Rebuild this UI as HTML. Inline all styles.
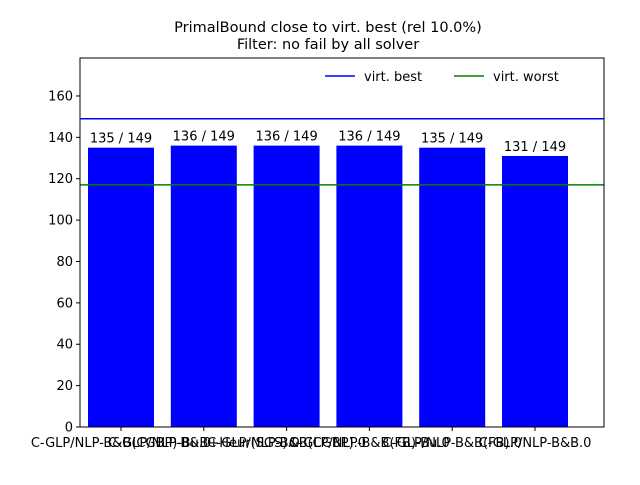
<!DOCTYPE html>
<html><head><meta charset="utf-8"><style>body{margin:0;background:#fff}svg{font-family:"DejaVu Sans","Liberation Sans",sans-serif}</style></head>
<body>
<svg id="c" width="640" height="480"></svg>
<script>
const categories=["C-GLP/NLP-B&B(CGBP)-Bu.0","C-GLP/NLP-B&B+Heur(SGS).0","C-GLP/NLP-B&B(CGBP).0","C-GLP/NLP-B&B(FB)-Bu.0","C-GLP/NLP-B&B(FB).0","C-GLP/NLP-B&B.0"];
const values=[135,136,136,136,135,131];
const totals=[149,149,149,149,149,149];
const virtBest=149, virtWorst=117;
const yTicks=[0,20,40,60,80,100,120,140,160];
const NS="http://www.w3.org/2000/svg";
const svg=document.getElementById('c');
const L=80,R=604,T=58,B=427,yMax=178.35;
const y=v=>B-(v/yMax)*(B-T);
const x=i=>121+82.8*i;
function mk(t,a,txt){const e=document.createElementNS(NS,t);for(const k in a)e.setAttribute(k,a[k]);if(txt!==undefined)e.textContent=txt;svg.appendChild(e);return e;}
let e;
e=mk('text',{x:328,y:32,'text-anchor':'middle','font-size':14.5},'PrimalBound close to virt. best (rel 10.0%)');


e=mk('text',{x:328,y:49,'text-anchor':'middle','font-size':14.5},'Filter: no fail by all solver');


values.forEach((v,i)=>{
 const b=mk('rect',{x:x(i)-33,y:y(v),width:66,height:B-y(v),fill:'#0000ff'});
 
 
 const t=mk('text',{x:x(i),y:y(v)-5,'text-anchor':'middle','font-size':13},v+' / '+totals[i]);
 
 
 const tk=mk('line',{x1:x(i),x2:x(i),y1:B,y2:B+4,stroke:'#000'});
 
 
 const xl=mk('text',{x:x(i),y:B+20,'text-anchor':'middle','font-size':13},categories[i]);
 
 
});
e=mk('line',{x1:L,x2:R,y1:y(virtBest),y2:y(virtBest),stroke:'#0000ff','stroke-width':1.5});


e=mk('line',{x1:L,x2:R,y1:y(virtWorst),y2:y(virtWorst),stroke:'#008000','stroke-width':1.5});


yTicks.forEach(v=>{
 const tk=mk('line',{x1:L-4,x2:L,y1:y(v),y2:y(v),stroke:'#000'});
 
 
 const tl=mk('text',{x:L-7,y:y(v)+4.5,'text-anchor':'end','font-size':13},v);
 
 
});
e=mk('rect',{x:L,y:T,width:R-L,height:B-T,fill:'none',stroke:'#000'});


e=mk('line',{x1:325,x2:355,y1:76,y2:76,stroke:'#0000ff','stroke-width':1.5});


e=mk('text',{x:364,y:81,'font-size':13},'virt. best');


e=mk('line',{x1:454,x2:484,y1:76,y2:76,stroke:'#008000','stroke-width':1.5});


e=mk('text',{x:493,y:81,'font-size':13},'virt. worst');


</script>
</body></html>
